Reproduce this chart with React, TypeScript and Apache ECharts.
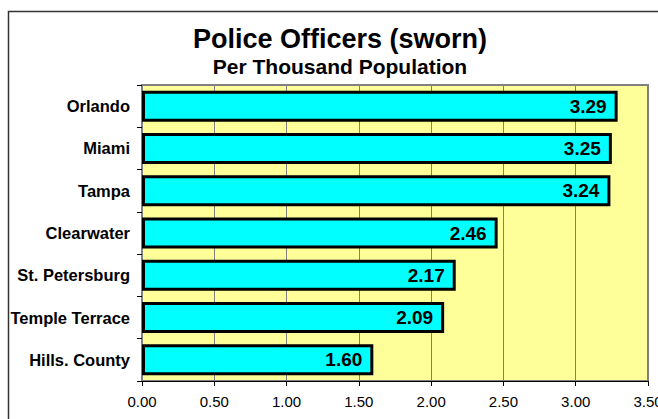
import React, { useEffect, useRef } from "react";
import * as echarts from "echarts";

const cities = ["Orlando", "Miami", "Tampa", "Clearwater", "St. Petersburg", "Temple Terrace", "Hills. County"];
const officersPerThousand = [3.29, 3.25, 3.24, 2.46, 2.17, 2.09, 1.6];
const titleMain = "Police Officers (sworn)";
const titleSub = "Per Thousand Population";

const FONT = "'Liberation Sans', Arial, Helvetica, sans-serif";

export default function App() {
  const ref = useRef<HTMLDivElement>(null);
  useEffect(() => {
    if (!ref.current) return;
    const chart = echarts.init(ref.current, null, { renderer: "svg" });
    chart.setOption({
      animation: false,
      backgroundColor: "#ffffff",
      title: [
        {
          text: titleMain,
          left: 335,
          top: 20,
          textAlign: "center",
          textStyle: { fontFamily: FONT, fontWeight: "bold", fontSize: 27, color: "#000" },
        },
        {
          text: titleSub,
          left: 335,
          top: 51,
          textAlign: "center",
          textStyle: { fontFamily: FONT, fontWeight: "bold", fontSize: 21, color: "#000" },
        },
      ],
      graphic: [
        {
          type: "rect",
          shape: { x: 8.5, y: 11.5, width: 700, height: 500 },
          style: { fill: "none", stroke: "#333", lineWidth: 1.5 },
          silent: true,
          z: 100,
        },
      ],
      grid: {
        left: 142,
        right: 10,
        top: 85,
        bottom: 38,
        outerBoundsMode: "none",
        containLabel: false,
        show: true,
        backgroundColor: "#FFFF99",
        borderColor: "#808080",
        borderWidth: 2,
      },
      xAxis: {
        type: "value",
        min: 0,
        max: 3.5,
        interval: 0.5,
        axisLine: { show: true, lineStyle: { color: "#000", width: 1 } },
        axisTick: { show: true, length: 5, lineStyle: { color: "#000" } },
        splitLine: { show: true, lineStyle: { color: "#808080", width: 1 } },
        axisLabel: {
          fontFamily: FONT,
          fontSize: 15,
          color: "#000",
          margin: 13,
          formatter: (v: number) => v.toFixed(2),
          showMaxLabel: true,
        },
      },
      yAxis: {
        type: "category",
        data: cities,
        inverse: true,
        axisLine: { show: true, lineStyle: { color: "#808080", width: 1 } },
        axisTick: { show: true, length: 5, lineStyle: { color: "#000" } },
        axisLabel: {
          fontFamily: FONT,
          fontSize: 16.5,
          fontWeight: "bold",
          color: "#000",
          margin: 12,
        },
      },
      series: [
        {
          type: "bar",
          data: officersPerThousand,
          barWidth: 31,
          itemStyle: { color: "#00FFFF", borderColor: "#000", borderWidth: 3 },
          label: {
            show: true,
            position: "insideRight",
            distance: 11,
            fontFamily: FONT,
            fontWeight: "bold",
            fontSize: 19,
            color: "#000",
            formatter: (p: any) => Number(p.value).toFixed(2),
          },
        },
      ],
    });
    return () => chart.dispose();
  }, []);
  return <div ref={ref} style={{ position: "absolute", left: 0, top: 0, width: 658, height: 419 }} />;
}
